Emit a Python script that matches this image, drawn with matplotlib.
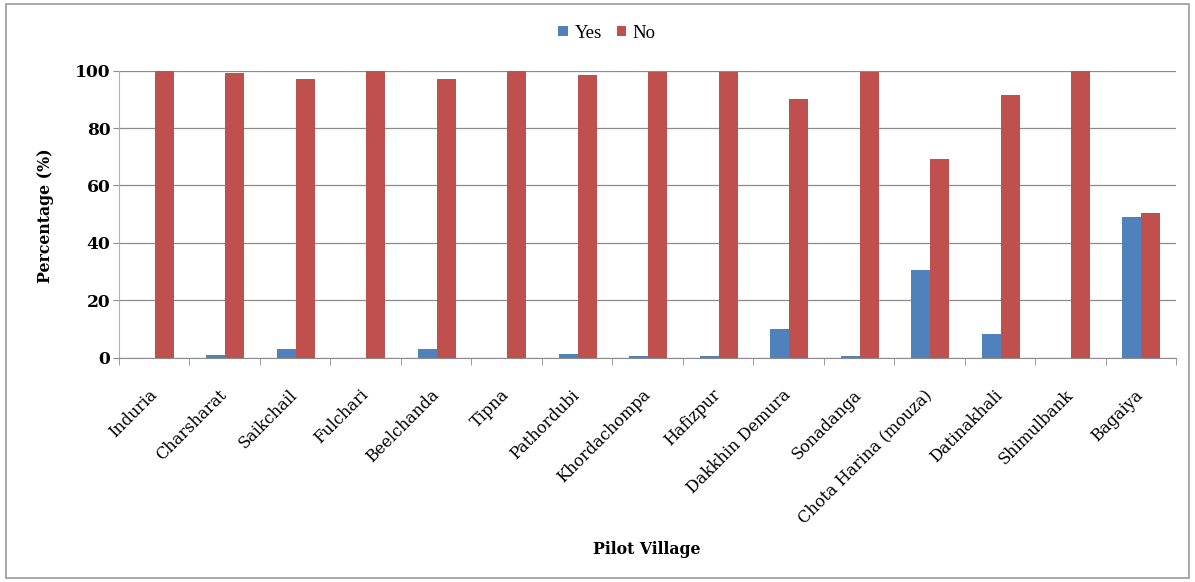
import matplotlib
matplotlib.use("Agg")
import matplotlib.pyplot as plt
import numpy as np
from matplotlib.patches import Rectangle

villages = ["Induria", "Charsharat", "Saikchail", "Fulchari", "Beelchanda", "Tipna",
            "Pathordubi", "Khordachompa", "Hafizpur", "Dakkhin Demura", "Sonadanga",
            "Chota Harina (mouza)", "Datinakhali", "Shimulbank", "Bagaiya"]
yes_pct = [0, 0.9, 2.9, 0, 3.0, 0, 1.2, 0.5, 0.5, 10.0, 0.5, 30.6, 8.3, 0, 48.9]
no_pct = [100, 99.1, 97.1, 100, 97.0, 100, 98.6, 99.5, 99.5, 90.0, 99.5, 69.2, 91.5, 100, 50.3]
y_ticks = [0, 20, 40, 60, 80, 100]

plt.rcParams['font.family'] = ['DejaVu Serif', 'Liberation Serif']

W, H = 1195, 582
fig = plt.figure(figsize=(W / 100, H / 100), dpi=100)
ax = fig.add_axes([119 / W, 1 - 357.7 / H, (1176 - 119) / W, (357.7 - 70.7) / H])

grey = "#8c8c8c"
x = np.arange(len(villages))
w = 0.27
ax.bar(x - w / 2 + 0.01, yes_pct, w, color="#4F81BD", label="Yes", zorder=3)
ax.bar(x + w / 2 + 0.01, no_pct, w, color="#C0504D", label="No", zorder=3)

ax.set_xlim(-0.5, len(villages) - 0.5)
ax.set_ylim(0, 100)
ax.set_yticks(y_ticks)
ax.yaxis.grid(True, color=grey, linewidth=0.9, zorder=0)
ax.set_axisbelow(True)

for s in ["top", "right"]:
    ax.spines[s].set_visible(False)
ax.spines["bottom"].set_color(grey)
ax.spines["left"].set_color("#b0b0b0")

ax.tick_params(axis="y", length=4.3, color=grey, labelsize=12.3, pad=2)
for lbl in ax.get_yticklabels():
    lbl.set_fontweight("bold")

ax.set_xticks(x)
ax.set_xticklabels(villages, rotation=45, ha="right", va="center",
                   rotation_mode="anchor", fontsize=11.6)
ax.set_xticks(np.arange(-0.5, len(villages)), minor=True)
ax.tick_params(axis="x", which="major", length=0, pad=25)
ax.tick_params(axis="x", which="minor", length=5, color=grey)

fig.text(45 / W, 1 - 216 / H, "Percentage (%)", rotation=90, fontsize=11.3,
         fontweight="bold", ha="center", va="center")
fig.text(647 / W, 1 - 550 / H, "Pilot Village", fontsize=11.3, fontweight="bold",
         ha="center", va="center")

fig.legend(loc="center", bbox_to_anchor=(607 / W, 1 - 33 / H), ncol=2, frameon=False,
           prop={"family": "Liberation Serif", "size": 13.5},
           handlelength=0.5, handleheight=0.5, handletextpad=0.35,
           columnspacing=0.8)

fig.patches.append(Rectangle((6 / W, 4 / H), 1 - 12 / W, 1 - 8 / H, transform=fig.transFigure,
                             fill=False, edgecolor="#9a9a9a", linewidth=1.2))

fig.savefig("out.png", dpi=100, facecolor="white")
